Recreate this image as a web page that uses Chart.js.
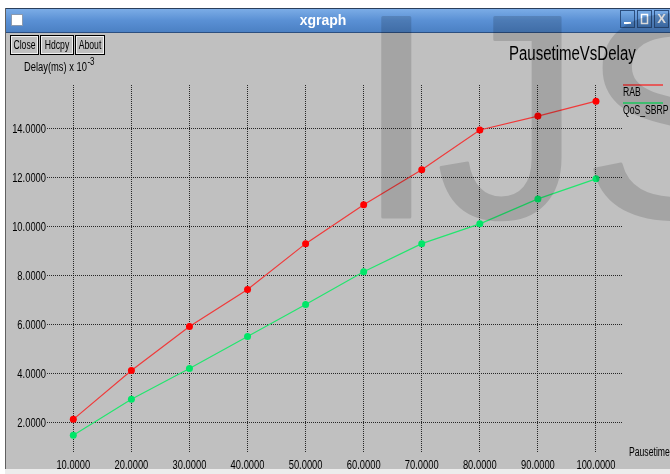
<!DOCTYPE html>
<html>
<head>
<meta charset="utf-8">
<script src="https://cdn.jsdelivr.net/npm/chart.js@4"></script>
<style>
  html, body { margin: 0; padding: 0; background: #fff; }
  canvas { display: block; }
</style>
</head>
<body>
<canvas id="myChart" width="670" height="474"></canvas>
<script>
// values
const pauseTimes = [10, 20, 30, 40, 50, 60, 70, 80, 90, 100];
const rabDelay = [2.12, 4.12, 5.92, 7.43, 9.31, 10.90, 12.33, 13.96, 14.53, 15.14];
const qosDelay = [1.47, 2.94, 4.20, 5.51, 6.82, 8.16, 9.31, 10.12, 11.14, 11.96];
const xTickValues = [10, 20, 30, 40, 50, 60, 70, 80, 90, 100];
const yTickValues = [2, 4, 6, 8, 10, 12, 14];
const seriesNames = ['RAB', 'QoS_SBRP'];

const SANS = "'Liberation Sans', Arial, sans-serif";

// xgraph uses a tall narrow font, so squeeze the text sideways
const narrowText = (c, text, x, y, size, align, sx) => {
    c.save();
    c.font = size + 'px ' + SANS;
    c.textAlign = align || 'left';
    c.translate(x, y);
    c.scale(sx || 0.74, 1);
    c.fillText(text, 0, 0);
    c.restore();
};

// watermark drawn solid on its own layer, then laid over at low alpha
const watermark = document.createElement('canvas');
watermark.width = 670;
watermark.height = 474;
(() => {
    const w = watermark.getContext('2d');
    w.fillStyle = '#000';
    w.strokeStyle = '#000';
    w.lineWidth = 3;
    w.lineJoin = 'round';
    w.font = "290px " + SANS;
    w.fillText('IJS', 356, 217);
    w.strokeText('IJS', 356, 217);
})();

// window frame, title bar and buttons
const windowChrome = {
    id: 'windowChrome',
    beforeDraw: (chart) => {
        const c = chart.ctx;
        c.save();
        c.fillStyle = '#ffffff';
        c.fillRect(0, 0, 670, 474);
        c.fillStyle = '#c0c0c0';
        c.fillRect(5, 33, 665, 436);
        c.fillStyle = '#ececec';
        c.fillRect(5, 469, 665, 5);

        let g = c.createLinearGradient(0, 8, 0, 33);
        g.addColorStop(0, '#7eafe8');
        g.addColorStop(0.5, '#5a90d4');
        g.addColorStop(1, '#4a7fc2');
        c.fillStyle = g;
        c.fillRect(5, 8, 665, 25);
        c.fillStyle = '#2c4f80';
        c.fillRect(5, 32, 665, 1);
        c.fillStyle = '#2a3f5c';
        c.fillRect(5, 8, 665, 1);
        c.fillStyle = '#606060';
        c.fillRect(5, 8, 1, 461);

        // window icon
        c.fillStyle = '#ffffff';
        c.fillRect(11, 14, 12, 12);
        c.strokeStyle = '#8a9ab0';
        c.strokeRect(11.5, 14.5, 11, 11);

        c.fillStyle = '#ffffff';
        c.font = "bold 14px " + SANS;
        c.textAlign = 'center';
        c.textBaseline = 'middle';
        c.fillText('xgraph', 323, 21);

        // min / max / close buttons
        [620, 637, 654].forEach((bx, i) => {
            let bg = c.createLinearGradient(0, 10, 0, 28);
            bg.addColorStop(0, '#7aaee8');
            bg.addColorStop(1, '#3f74b8');
            c.fillStyle = bg;
            c.fillRect(bx, 10, 15, 18);
            c.strokeStyle = '#2b4e7e';
            c.strokeRect(bx + 0.5, 10.5, 14, 17);
            c.fillStyle = '#ffffff';
            c.strokeStyle = '#ffffff';
            if (i === 0) c.fillRect(bx + 4, 22, 7, 2);
            if (i === 1) { c.lineWidth = 1.5; c.strokeRect(bx + 4.5, 14.5, 6, 9); c.lineWidth = 1; }
            if (i === 2) {
                c.font = "bold 13px " + SANS;
                c.fillText('X', bx + 7.5, 19.5);
            }
        });

        // toolbar buttons
        const buttons = [['Close', 10, 28], ['Hdcpy', 40, 33], ['About', 75, 29]];
        c.textBaseline = 'middle';
        buttons.forEach(b => {
            c.strokeStyle = '#000000';
            c.strokeRect(b[1] + 0.5, 35.5, b[2], 19);
            c.strokeStyle = '#f0f0f0';
            c.strokeRect(b[1] + 1.5, 36.5, b[2] - 2, 17);
            c.fillStyle = '#000000';
            narrowText(c, b[0], b[1] + b[2] / 2 + 0.5, 45.5, 12, 'center', 0.72);
        });
        c.restore();
    },
    afterDraw: (chart) => {
        const c = chart.ctx;
        c.save();
        c.fillStyle = '#000000';
        c.textBaseline = 'alphabetic';

        // tick labels, placed by the chart's own scales
        const xs = chart.scales.x, ys = chart.scales.y;
        xs.ticks.forEach(t => {
            narrowText(c, t.value.toFixed(4), xs.getPixelForValue(t.value), 469, 13, 'center', 0.72);
        });
        ys.ticks.forEach(t => {
            narrowText(c, t.value.toFixed(4), 46, ys.getPixelForValue(t.value) + 4.5, 13, 'right', 0.72);
        });

        narrowText(c, 'PausetimeVsDelay', 509, 60, 20, 'left', 0.75);

        narrowText(c, 'Delay(ms) x 10', 24, 71, 12, 'left', 0.78);
        c.font = '12px ' + SANS;
        const w = c.measureText('Delay(ms) x 10').width * 0.78;
        narrowText(c, '-3', 24 + w + 0.5, 65, 10, 'left', 0.8);

        narrowText(c, 'Pausetime', 629, 456, 12, 'left', 0.72);

        // legend, xgraph style
        chart.data.datasets.forEach((ds, i) => {
            const ly = 85 + i * 18;
            c.strokeStyle = ds.borderColor;
            c.lineWidth = 1.5;
            c.beginPath();
            c.moveTo(623, ly);
            c.lineTo(663, ly);
            c.stroke();
            c.fillStyle = '#000000';
            narrowText(c, ds.label, 623, ly + 11, 12, 'left', 0.72);
        });

        c.globalAlpha = 0.14;
        c.drawImage(watermark, 0, 0);
        c.restore();
    }
};

const makePoints = (vals) => pauseTimes.map((x, i) => ({ x: x, y: vals[i] }));

const data1 = {
    datasets: [{
        label: seriesNames[0],
        data: makePoints(rabDelay),
        borderColor: '#f03a3a',
        backgroundColor: '#ff0000',
        pointBackgroundColor: '#ff0000',
        borderWidth: 1.2,
        pointRadius: 3.5,
        pointBorderWidth: 0,
        tension: 0
    }, {
        label: seriesNames[1],
        data: makePoints(qosDelay),
        borderColor: '#22e66e',
        backgroundColor: '#00e668',
        pointBackgroundColor: '#00e668',
        borderWidth: 1.2,
        pointRadius: 3.5,
        pointBorderWidth: 0,
        tension: 0
    }]
};

const gridStyle = { color: 'rgba(0,0,0,0.8)', lineWidth: 1, drawTicks: false };

const options = {
    responsive: false,
    animation: false,
    devicePixelRatio: 1,
    layout: { padding: { top: 85, right: 48, left: 0, bottom: 0 } },
    plugins: { legend: { display: false }, tooltip: { enabled: false } },
    scales: {
        x: {
            type: 'linear',
            min: 5.47,
            max: 104.48,
            afterBuildTicks: (s) => { s.ticks = xTickValues.map(v => ({ value: v })); },
            afterFit: (s) => { s.height = 22; },
            grid: gridStyle,
            border: { display: false, dash: [1, 1] },
            ticks: { display: false }
        },
        y: {
            type: 'linear',
            min: 0.785,
            max: 15.80,
            afterBuildTicks: (s) => { s.ticks = yTickValues.map(v => ({ value: v })); },
            afterFit: (s) => { s.width = 47; },
            grid: gridStyle,
            border: { display: false, dash: [1, 1] },
            ticks: { display: false }
        }
    }
};

const myChart = new Chart(document.getElementById('myChart'), {
    type: 'line',
    data: data1,
    options: options,
    plugins: [windowChrome]
});
</script>
</body>
</html>
